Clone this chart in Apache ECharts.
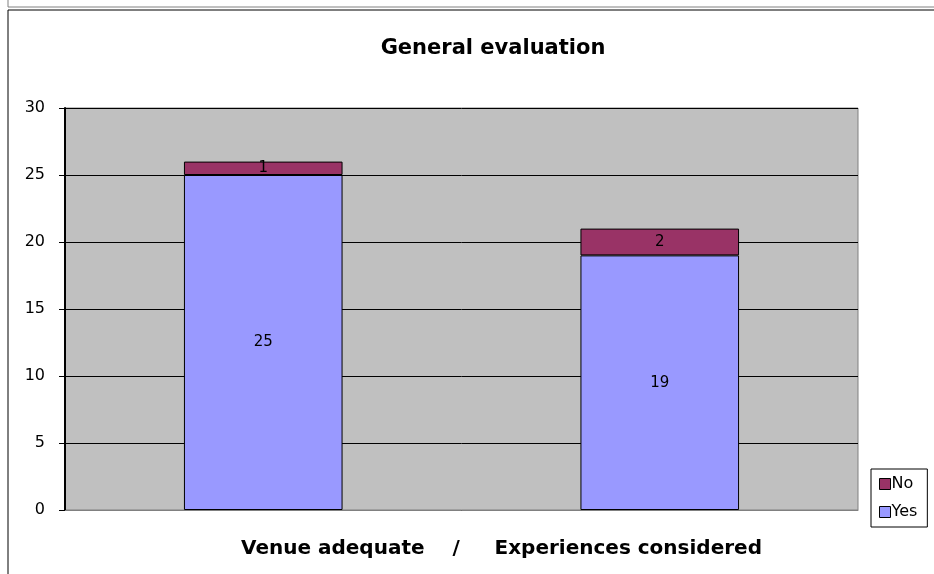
<!DOCTYPE html>
<html>
<head>
<meta charset="utf-8">
<script src="https://cdn.jsdelivr.net/npm/echarts@6/dist/echarts.min.js"></script>
<style>
  html, body { margin: 0; padding: 0; background: #fff; }
  #chart { width: 934px; height: 574px; }
</style>
</head>
<body>
<div id="chart"></div>
<script>
var categories = ["Venue adequate", "Experiences considered"];
var yesData = [25, 19];
var noData = [1, 2];
var yTicks = { min: 0, max: 30, interval: 5 };

var font = "'Comic Sans MS', 'DejaVu Sans', sans-serif";
var chart = echarts.init(document.getElementById("chart"));

var option = {
  backgroundColor: "#fff",
  animation: false,
  title: {
    text: "General evaluation",
    left: 488,
    top: 33,
    textAlign: "center",
    textStyle: { fontFamily: font, fontSize: 21, fontWeight: "bold", color: "#000" }
  },
  legend: {
    orient: "vertical",
    left: 871,
    top: 469,
    width: 50,
    icon: "rect",
    itemWidth: 11,
    itemHeight: 11,
    itemGap: 12,
    padding: [7, 10, 7, 8],
    borderColor: "#000",
    borderWidth: 1,
    data: ["No", "Yes"],
    textStyle: { fontFamily: font, fontSize: 16, color: "#000", padding: [0, 0, 0, -4] },
    itemStyle: { borderColor: "#000", borderWidth: 1 }
  },
  grid: {
    left: 65,
    right: 76,
    top: 108,
    bottom: 64,
    show: true,
    backgroundColor: "#c0c0c0",
    borderColor: "#808080",
    borderWidth: 1
  },
  xAxis: {
    type: "category",
    data: categories,
    name: "Venue adequate    /     Experiences considered",
    nameLocation: "middle",
    nameGap: 29,
    nameTextStyle: { fontFamily: font, fontSize: 20, fontWeight: "bold", color: "#000", padding: [0, 0, 0, 80] },
    axisLine: { lineStyle: { color: "#808080" } },
    axisTick: { show: false },
    axisLabel: { show: false }
  },
  yAxis: {
    type: "value",
    min: yTicks.min,
    max: yTicks.max,
    interval: yTicks.interval,
    axisLine: { show: true, lineStyle: { color: "#000", width: 2 } },
    axisTick: { show: true, length: 6, lineStyle: { color: "#000" } },
    axisLabel: { fontFamily: font, fontSize: 16, color: "#000", margin: 20 },
    splitLine: { lineStyle: { color: "#000", width: 1 } }
  },
  series: [
    {
      name: "Yes",
      type: "bar",
      stack: "total",
      barWidth: "40%",
      data: yesData,
      itemStyle: { color: "#9999ff", borderColor: "#000", borderWidth: 1 },
      label: { show: true, position: "inside", fontFamily: font, fontSize: 15, color: "#000" }
    },
    {
      name: "No",
      type: "bar",
      stack: "total",
      barWidth: "40%",
      data: noData,
      itemStyle: { color: "#993366", borderColor: "#000", borderWidth: 1 },
      label: { show: true, position: "inside", fontFamily: font, fontSize: 15, color: "#000" }
    }
  ],
  graphic: [
    // frames of the sheet behind the chart
    { type: "polyline", shape: { points: [[8, 0], [8, 7], [934, 7]] }, style: { stroke: "#808080", fill: null, lineWidth: 1 } },
    { type: "polyline", shape: { points: [[8, 574], [8, 10], [934, 10]] }, style: { stroke: "#000", fill: null, lineWidth: 1 } }
  ]
};
chart.setOption(option);
</script>
</body>
</html>
